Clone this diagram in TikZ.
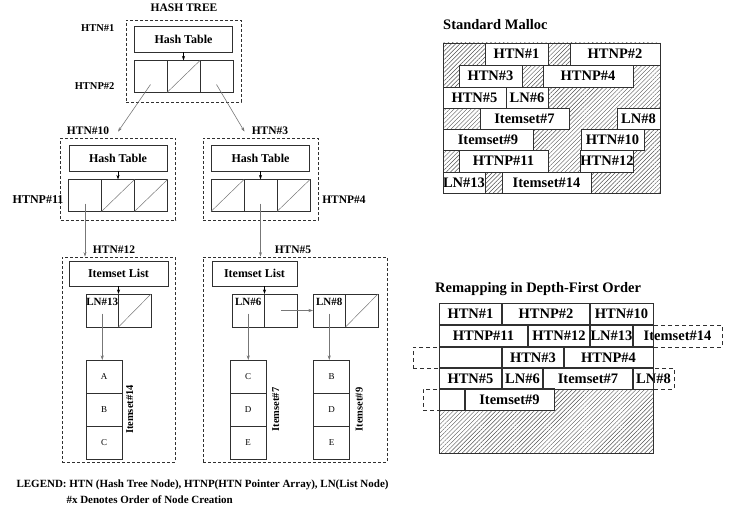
\documentclass[tikz,border=0pt]{standalone}
\usepackage{fontspec}
\setmainfont{Liberation Serif}
\usetikzlibrary{arrows.meta,patterns.meta}
\definecolor{box-line}{HTML}{303030}
\definecolor{link-gray}{HTML}{777777}
\definecolor{hatch-gray}{HTML}{505050}

\begin{document}
\begin{tikzpicture}[
    x=1pt, y=-1pt,
    font=\fontsize{11.5}{13}\selectfont\bfseries,
    >={Stealth[length=4.5pt,width=3pt]},
    dbox/.style={draw=box-line, dash pattern=on 3pt off 2pt, line width=0.7pt, inner sep=0pt, minimum width=115pt, minimum height=82pt},
    cell/.style={draw=box-line, line width=0.7pt, inner sep=0pt, outer sep=0pt},
    tbl/.style={cell, minimum width=98pt, minimum height=26pt, font=\fontsize{12}{13}\selectfont\bfseries},
    pcell/.style={cell, minimum width=33pt, minimum height=32pt},
    lcell/.style={cell, minimum width=32.5pt, minimum height=33pt},
    icell/.style={cell, minimum width=36pt, minimum height=33pt, font=\fontsize{9}{10}\selectfont},
    small/.style={font=\fontsize{10.5}{12}\selectfont\bfseries},
    link/.style={->, draw=link-gray, line width=0.6pt},
    ptr/.style={->, draw=black, line width=0.7pt},
    nil/.style={draw=link-gray, line width=0.5pt},
    vlbl/.style={rotate=90, anchor=north, inner sep=1pt, font=\fontsize{10.5}{12}\selectfont\bfseries},
    mem/.style={draw=box-line, fill=white, line width=0.7pt, inner sep=0pt, font=\fontsize{14.5}{16}\selectfont\bfseries},
    hatch/.style={pattern={Lines[angle=45,distance=3pt,line width=0.45pt]}, pattern color=hatch-gray}
]
\useasboundingbox (0,0) rectangle (733,508);

% hash tree
\node (title) at (184,8) {HASH TREE};

\node[dbox] (g1) at (183.5,61) {};
\node[tbl] (ht1) at (183.5,39.5) {Hash Table};
\node[pcell] (p2a) at (150.5,76.5) {};
\node[pcell] (p2b) at (183.5,76.5) {};
\node[pcell] (p2c) at (216.5,76.5) {};
\node[small, anchor=east] (n1) at (118,28) {HTN\#1};
\node[small, anchor=east] (n2) at (118,86) {HTNP\#2};

\node[dbox] (g10) at (118,179) {};
\node[tbl] (ht10) at (118,158) {Hash Table};
\node[pcell] (p11a) at (85,195.5) {};
\node[pcell] (p11b) at (118,195.5) {};
\node[pcell] (p11c) at (151,195.5) {};
\node (n10) at (88,131) {HTN\#10};
\node[font=\fontsize{12}{13}\selectfont\bfseries] (n11) at (38,200) {HTNP\#11};

\node[dbox] (g3) at (260.5,179) {};
\node[tbl] (ht3) at (260.5,158) {Hash Table};
\node[pcell] (p4a) at (227.5,195.5) {};
\node[pcell] (p4b) at (260.5,195.5) {};
\node[pcell] (p4c) at (293.5,195.5) {};
\node (n3) at (270,131) {HTN\#3};
\node (n4) at (344,200) {HTNP\#4};

% empty pointers
\foreach \c in {p2b,p11b,p11c,p4a,p4c}
    \draw[nil] (\c.south west) -- (\c.north east);

\draw[ptr] (ht1.south) -- (p2b.north);
\draw[ptr] (ht10.south) -- (p11b.north);
\draw[ptr] (ht3.south) -- (p4b.north);
\draw[link] ([yshift=-8pt]p2a.center) -- ([yshift=6pt]g10.north);
\draw[link] ([yshift=-8pt]p2c.center) -- ([xshift=-16pt,yshift=6pt]g3.north);

% itemset lists
\node[dbox, minimum width=113pt, minimum height=205pt] (g12) at (118.5,359.5) {};
\node[tbl, minimum width=99pt, minimum height=25pt] (il12) at (118.5,273.5) {Itemset List};
\node (n12) at (114,250) {HTN\#12};
\node[lcell] (ln13a) at (102.25,310.5) {};
\node[lcell] (ln13b) at (134.75,310.5) {};
\node[icell] (it14a) at (104,376.5) {A};
\node[icell] (it14b) at (104,409.5) {B};
\node[icell] (it14c) at (104,442.5) {C};
\node[vlbl] (n14) at ([xshift=3pt]it14b.east) {Itemset\#14};

\node[dbox, minimum width=184pt, minimum height=205pt] (g5) at (295,359.5) {};
\node[tbl, minimum width=85pt, minimum height=25pt] (il5) at (254.5,273.5) {Itemset List};
\node (n5) at (293,250) {HTN\#5};
\node[lcell] (ln6a) at (248.25,310.5) {};
\node[lcell] (ln6b) at (280.75,310.5) {};
\node[lcell] (ln8a) at (329.25,310.5) {};
\node[lcell] (ln8b) at (361.75,310.5) {};
\node[icell] (it7a) at (248,376.5) {C};
\node[icell] (it7b) at (248,409.5) {D};
\node[icell] (it7c) at (248,442.5) {E};
\node[vlbl] (n7) at ([xshift=5pt]it7b.east) {Itemset\#7};
\node[icell] (it9a) at (331.5,376.5) {B};
\node[icell] (it9b) at (331.5,409.5) {D};
\node[icell] (it9c) at (331.5,442.5) {E};
\node[vlbl] (n9) at ([xshift=5pt]it9b.east) {Itemset\#9};

\foreach \c/\t in {ln13a/13,ln6a/6,ln8a/8}
    \node[font=\fontsize{11}{12}\selectfont\bfseries] (t\t) at ([yshift=-8pt]\c.north) {LN\#\t};
\foreach \c in {ln13b,ln8b}
    \draw[nil] (\c.south west) -- (\c.north east);

\draw[ptr] (il12.south -| ln13a.north east) -- (ln13a.north east);
\draw[ptr] (il5.south -| ln6a.north east) -- (ln6a.north east);
\draw[link] ([yshift=-8pt]p11a.center) -- (p11a.center |- g12.north);
\draw[link] ([yshift=-8pt]p4b.center) -- (p4b.center |- g5.north);
\draw[link] ([yshift=-3pt]ln13a.center) -- (ln13a.center |- it14a.north);
\draw[link] ([yshift=-3pt]ln6a.center) -- (ln6a.center |- it7a.north);
\draw[link] ([yshift=-3pt]ln8a.center) -- (ln8a.center |- it9a.north);
\draw[link] (ln6b.center) -- (ln8a.west);

% legend
\node[anchor=west, font=\fontsize{11}{13}\selectfont\bfseries] (leg1) at (13,485) {LEGEND: HTN (Hash Tree Node), HTNP(HTN Pointer Array), LN(List Node)};
\node[anchor=west, font=\fontsize{11}{13}\selectfont\bfseries] (leg2) at (63,500) {\#x Denotes Order of Node Creation};

% standard malloc
\node[anchor=west, inner sep=0pt, font=\fontsize{14.5}{16}\selectfont\bfseries] (mtitle) at (443,25) {Standard Malloc};
\fill[hatch] (443,43) rectangle (660,193);
\foreach \xa/\xb/\ya/\yb/\txt [count=\i] in {
    485/548/43/65/HTN\#1, 570/660/43/65/HTNP\#2,
    459/522/65/87/HTN\#3, 543/633/65/87/HTNP\#4,
    443/506/87/108/HTN\#5, 506/548/87/108/LN\#6,
    480/569/108/129/Itemset\#7, 617/660/108/129/LN\#8,
    443/533/129/150/Itemset\#9, 581/644/129/150/HTN\#10,
    459/548/150/172/HTNP\#11, 581/633/150/172/HTN\#12,
    443/485/172/193/LN\#13, 502/591/172/193/Itemset\#14}
    \node[mem, minimum width={(\xb-\xa)*1pt}, minimum height={(\yb-\ya)*1pt}] (m\i) at ({(\xa+\xb)/2},{(\ya+\yb)/2}) {\txt};
\draw[draw=box-line, line width=0.8pt] (443,43) rectangle (660,193);

% remapped
\node[anchor=west, inner sep=0pt, font=\fontsize{14.5}{16}\selectfont\bfseries] (rtitle) at (435,289) {Remapping in Depth-First Order};
\fill[hatch] (439,303) rectangle (653,453);
\foreach \xa/\xb/\ya/\yb/\txt [count=\i] in {
    439/502/303/325/HTN\#1, 502/590/303/325/HTNP\#2, 590/653/303/325/HTN\#10,
    439/528/325/347/HTNP\#11, 528/590/325/347/HTN\#12, 590/633/325/347/LN\#13, 633/722/325/347/Itemset\#14,
    413/502/347/368/{}, 502/564/347/368/HTN\#3, 564/653/347/368/HTNP\#4,
    439/502/368/389/HTN\#5, 502/543/368/389/LN\#6, 543/633/368/389/Itemset\#7, 633/674/368/389/LN\#8,
    423/465/389/410/{}, 465/554/389/410/Itemset\#9}
    \node[mem, dash pattern=on 4pt off 3pt, minimum width={(\xb-\xa)*1pt}, minimum height={(\yb-\ya)*1pt}] (r\i) at ({(\xa+\xb)/2},{(\ya+\yb)/2}) {\txt};
\begin{scope}
    \clip (439,303) rectangle (653,453);
    \foreach \i in {1,...,16}
        \draw[draw=box-line, line width=0.7pt] (r\i.south west) rectangle (r\i.north east);
\end{scope}
\draw[draw=box-line, line width=0.8pt] (439,303) rectangle (653,453);
\end{tikzpicture}
\end{document}
